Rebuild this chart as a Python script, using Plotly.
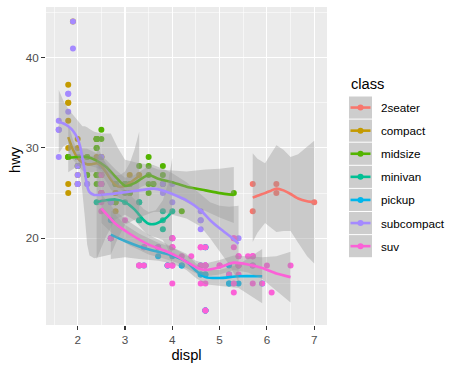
import plotly.graph_objects as go

# ---------------- data ----------------
classes = ["2seater", "compact", "midsize", "minivan", "pickup", "subcompact", "suv"]
class_colors = ["#F8766D", "#C49A00", "#53B400", "#00C094", "#00B6EB", "#A58AFF", "#FB61D7"]

displ_2seater = [5.7, 5.7, 6.2, 6.2, 7.0]
hwy_2seater = [26, 23, 26, 25, 24]

displ_compact = [1.8, 1.8, 2.0, 2.0, 2.8, 2.8, 3.1, 1.8, 1.8, 2.0, 2.0, 2.8, 2.8, 3.1, 3.1, 2.4, 2.4,
                 2.5, 2.5, 2.5, 2.5, 2.2, 2.2, 2.4, 2.4, 3.0, 3.0, 3.3, 1.8, 1.8, 1.8, 1.8, 1.8, 2.0,
                 2.0, 2.0, 2.0, 2.8, 1.9, 2.0, 2.0, 2.0, 2.0, 2.5, 2.5, 2.8, 2.8]
hwy_compact = [29, 29, 31, 30, 26, 26, 27, 26, 25, 28, 27, 25, 25, 25, 25, 29, 27, 25, 27, 25, 27,
               27, 29, 31, 31, 26, 26, 27, 30, 33, 35, 37, 35, 29, 26, 29, 29, 24, 44, 29, 26, 29,
               29, 29, 29, 23, 24]

displ_midsize = [2.8, 3.1, 4.2, 2.4, 2.4, 3.1, 3.5, 3.6, 2.4, 2.4, 2.4, 2.4, 2.5, 2.5, 3.3, 2.5,
                 2.5, 3.5, 3.5, 3.0, 3.0, 3.5, 3.1, 3.8, 3.8, 3.8, 5.3, 2.2, 2.2, 2.4, 2.4, 3.0,
                 3.0, 3.5, 1.8, 1.8, 2.0, 2.0, 2.8, 2.8, 3.6]
hwy_midsize = [24, 25, 23, 27, 30, 26, 29, 26, 26, 27, 30, 31, 26, 26, 28, 31, 32, 27, 26, 26, 25,
               25, 26, 26, 27, 28, 25, 29, 27, 31, 31, 26, 26, 28, 29, 29, 28, 29, 26, 26, 26]

displ_minivan = [2.4, 3.0, 3.3, 3.3, 3.3, 3.3, 3.3, 3.8, 3.8, 3.8, 4.0]
hwy_minivan = [24, 24, 22, 22, 24, 24, 17, 22, 21, 23, 23]

displ_pickup = [3.7, 3.7, 3.9, 3.9, 4.7, 4.7, 4.7, 5.2, 5.2, 4.7, 4.7, 4.7, 4.7, 4.7, 4.7, 5.2,
                5.2, 5.7, 5.9, 4.2, 4.2, 4.6, 4.6, 4.6, 5.4, 5.4, 2.7, 2.7, 2.7, 3.4, 3.4, 4.0, 4.0]
hwy_pickup = [19, 18, 17, 17, 19, 19, 12, 17, 15, 16, 12, 17, 17, 16, 12, 15, 16, 17, 15, 17, 17,
              16, 16, 17, 15, 17, 20, 20, 22, 17, 19, 18, 20]

displ_subcompact = [3.8, 3.8, 4.0, 4.0, 4.6, 4.6, 4.6, 4.6, 5.4, 1.6, 1.6, 1.6, 1.6, 1.6, 1.8,
                    1.8, 1.8, 2.0, 2.0, 2.0, 2.0, 2.0, 2.7, 2.7, 2.7, 2.2, 2.2, 2.5, 2.5, 1.9,
                    1.9, 2.0, 2.0, 2.5, 2.5]
hwy_subcompact = [26, 25, 26, 24, 21, 22, 23, 22, 20, 33, 32, 32, 29, 32, 34, 36, 36, 29, 26, 29,
                  28, 27, 24, 24, 24, 26, 26, 26, 26, 44, 41, 29, 26, 28, 29]

displ_suv = [5.3, 5.3, 5.3, 5.7, 6.0, 5.3, 5.3, 5.7, 6.5, 3.9, 4.7, 4.7, 4.7, 5.2, 5.7, 5.9, 4.6,
             5.4, 5.4, 4.0, 4.0, 4.0, 4.0, 4.6, 5.0, 3.0, 3.7, 4.0, 4.7, 4.7, 4.7, 5.7, 6.1, 4.0,
             4.2, 4.4, 4.6, 5.4, 5.4, 5.4, 4.0, 4.0, 4.6, 5.0, 3.3, 3.3, 4.0, 5.6, 2.5, 2.5, 2.5,
             2.5, 2.5, 2.5, 2.7, 2.7, 3.4, 3.4, 4.0, 4.7, 4.7, 5.7]
hwy_suv = [20, 15, 20, 17, 17, 19, 14, 15, 17, 17, 17, 12, 17, 16, 18, 15, 17, 17, 18, 17, 19, 17,
           19, 19, 17, 22, 19, 20, 17, 12, 19, 18, 14, 15, 18, 18, 15, 17, 16, 18, 17, 19, 19, 17,
           17, 17, 20, 18, 25, 24, 27, 25, 26, 23, 20, 20, 19, 17, 20, 17, 15, 18]

# smooth curves (loess fit and 95% band)
sm_x_2seater = [5.7, 5.8, 5.96, 6.1, 6.2, 6.35, 6.5, 6.66, 6.85, 7.0]
sm_fit_2seater = [24.5, 24.7, 25.0, 25.3, 25.5, 25.3, 24.9, 24.4, 24.1, 24.0]
sm_hi_2seater = [29.4, 28.8, 28.3, 29.5, 30.3, 29.8, 29.0, 29.3, 30.2, 30.8]
sm_lo_2seater = [19.6, 20.6, 21.7, 21.1, 20.7, 20.8, 20.8, 19.5, 18.0, 17.2]

sm_x_compact = [1.8, 1.9, 2.0, 2.1, 2.2, 2.3, 2.4, 2.5, 2.6, 2.7, 2.8, 2.9, 3.0, 3.1, 3.2, 3.3]
sm_fit_compact = [31.2, 29.8, 28.9, 28.4, 28.2, 28.2, 28.3, 28.0, 27.3, 26.5, 25.9, 25.7, 25.8, 26.1, 26.5, 26.9]
sm_hi_compact = [32.7, 30.9, 29.7, 29.3, 29.1, 29.1, 29.2, 28.9, 28.3, 27.6, 27.0, 27.0, 27.4, 28.3, 29.8, 31.8]
sm_lo_compact = [29.7, 28.7, 28.1, 27.5, 27.3, 27.3, 27.4, 27.1, 26.3, 25.4, 24.8, 24.4, 24.2, 23.9, 23.2, 22.0]

sm_x_midsize = [1.8, 2.0, 2.2, 2.4, 2.6, 2.8, 3.0, 3.2, 3.35, 3.5, 3.7, 4.0, 4.3, 4.7, 5.0, 5.3]
sm_fit_midsize = [28.9, 29.0, 29.0, 28.6, 27.9, 26.8, 25.8, 26.1, 26.6, 27.0, 26.6, 26.2, 25.7, 25.3, 25.0, 24.8]
sm_hi_midsize = [30.5, 30.0, 29.9, 29.4, 28.7, 27.6, 26.7, 27.0, 27.5, 28.0, 27.6, 27.5, 27.4, 27.6, 27.7, 27.9]
sm_lo_midsize = [27.3, 28.0, 28.1, 27.8, 27.1, 26.0, 24.9, 25.2, 25.7, 26.0, 25.6, 24.9, 24.0, 23.0, 22.3, 21.7]

sm_x_minivan = [2.4, 2.6, 2.8, 3.0, 3.2, 3.4, 3.5, 3.65, 3.8, 3.9, 4.0]
sm_fit_minivan = [24.0, 24.2, 24.3, 24.0, 23.2, 22.0, 21.6, 21.6, 22.0, 22.4, 23.0]
sm_hi_minivan = [30.3, 28.2, 26.5, 25.4, 24.4, 23.2, 22.9, 23.1, 24.2, 25.9, 28.9]
sm_lo_minivan = [17.7, 20.2, 22.1, 22.6, 22.0, 20.8, 20.3, 20.1, 19.8, 18.9, 17.1]

sm_x_pickup = [2.7, 3.0, 3.3, 3.7, 4.0, 4.3, 4.5, 4.7, 5.0, 5.4, 5.9]
sm_fit_pickup = [20.4, 19.7, 19.1, 18.5, 18.1, 17.4, 16.4, 15.7, 15.6, 15.8, 15.8]
sm_hi_pickup = [23.1, 21.5, 20.5, 19.5, 19.0, 18.3, 17.2, 16.5, 16.5, 17.1, 18.8]
sm_lo_pickup = [17.7, 17.9, 17.7, 17.5, 17.2, 16.5, 15.6, 14.9, 14.7, 14.5, 12.8]

sm_x_subcompact = [1.6, 1.7, 1.8, 1.9, 2.0, 2.05, 2.1, 2.15, 2.2, 2.25, 2.35, 2.5, 2.7, 2.85, 3.0,
                   3.3, 3.6, 3.8, 4.0, 4.3, 4.6, 4.8, 5.0, 5.2, 5.4]
sm_fit_subcompact = [32.9, 32.7, 32.4, 31.9, 31.0, 30.2, 28.9, 27.4, 25.8, 25.1, 24.8, 24.8, 24.9,
                     25.0, 25.1, 25.3, 25.5, 25.3, 24.9, 24.2, 23.1, 22.0, 21.1, 20.3, 19.4]
sm_hi_subcompact = [36.4, 35.2, 34.3, 33.7, 33.0, 32.7, 32.4, 32.4, 32.3, 32.1, 31.8, 31.6, 31.6,
                    30.0, 28.7, 28.3, 28.1, 27.7, 27.2, 26.2, 24.9, 24.0, 23.6, 23.5, 23.6]
sm_lo_subcompact = [29.4, 30.2, 30.5, 30.1, 29.0, 27.7, 25.4, 22.4, 19.3, 18.1, 17.8, 18.0, 18.2,
                    20.0, 21.5, 22.3, 22.9, 22.9, 22.6, 22.2, 21.3, 20.0, 18.6, 17.1, 15.2]

sm_x_suv = [2.5, 2.8, 3.1, 3.5, 3.8, 4.1, 4.3, 4.5, 4.7, 5.0, 5.3, 5.6, 5.9, 6.2, 6.5]
sm_fit_suv = [23.3, 21.6, 20.5, 19.3, 18.7, 18.0, 17.4, 16.8, 16.5, 16.8, 17.3, 17.1, 16.7, 16.1, 15.7]
sm_hi_suv = [24.9, 23.0, 21.8, 20.4, 19.6, 18.7, 18.1, 17.5, 17.2, 17.6, 18.1, 18.0, 17.9, 18.0, 18.5]
sm_lo_suv = [21.7, 20.2, 19.2, 18.2, 17.8, 17.3, 16.7, 16.1, 15.8, 16.0, 16.5, 16.2, 15.5, 14.2, 12.9]

x_ticks = [2, 3, 4, 5, 6, 7]
y_ticks = [20, 30, 40]
x_title = "displ"
y_title = "hwy"
legend_title = "class"

points = {
    "2seater": (displ_2seater, hwy_2seater), "compact": (displ_compact, hwy_compact),
    "midsize": (displ_midsize, hwy_midsize), "minivan": (displ_minivan, hwy_minivan),
    "pickup": (displ_pickup, hwy_pickup), "subcompact": (displ_subcompact, hwy_subcompact),
    "suv": (displ_suv, hwy_suv),
}
smooths = {
    "2seater": (sm_x_2seater, sm_fit_2seater, sm_lo_2seater, sm_hi_2seater),
    "compact": (sm_x_compact, sm_fit_compact, sm_lo_compact, sm_hi_compact),
    "midsize": (sm_x_midsize, sm_fit_midsize, sm_lo_midsize, sm_hi_midsize),
    "minivan": (sm_x_minivan, sm_fit_minivan, sm_lo_minivan, sm_hi_minivan),
    "pickup": (sm_x_pickup, sm_fit_pickup, sm_lo_pickup, sm_hi_pickup),
    "subcompact": (sm_x_subcompact, sm_fit_subcompact, sm_lo_subcompact, sm_hi_subcompact),
    "suv": (sm_x_suv, sm_fit_suv, sm_lo_suv, sm_hi_suv),
}

# ---------------- figure ----------------
W, H = 462, 370
L, R, T, B = 46, 135, 7, 45
FONT = "Liberation Sans, Arial, sans-serif"

fig = go.Figure()

for cls, col in zip(classes, class_colors):
    xs, ys = points[cls]
    fig.add_trace(go.Scatter(x=xs, y=ys, mode="markers",
                             marker=dict(color=col, size=6, line=dict(width=0)),
                             showlegend=False, hoverinfo="skip"))

for cls, col in zip(classes, class_colors):
    xs, fit, lo, hi = smooths[cls]
    fig.add_trace(go.Scatter(x=list(xs) + list(xs)[::-1], y=list(hi) + list(lo)[::-1],
                             mode="lines", fill="toself", fillcolor="rgba(153,153,153,0.4)",
                             line=dict(width=0),
                             showlegend=False, hoverinfo="skip"))
    fig.add_trace(go.Scatter(x=xs, y=fit, mode="lines",
                             line=dict(color=col, width=2.6, shape="spline", smoothing=0.6),
                             showlegend=False, hoverinfo="skip"))

pw, ph = W - L - R, H - T - B


def px_x(p):
    return (p - L) / pw


def px_y(p):
    return (H - B - p) / ph


shapes = []
annotations = []
annotations.append(dict(text=y_title, x=px_x(15), y=px_y(160), xref="paper", yref="paper",
                        xanchor="center", yanchor="middle", showarrow=False, textangle=-90,
                        font=dict(size=14.7, color="black", family=FONT)))
annotations.append(dict(text=legend_title, x=px_x(349), y=px_y(84), xref="paper", yref="paper",
                        xanchor="left", yanchor="middle", showarrow=False,
                        font=dict(size=14.7, color="black", family=FONT)))
key_top, key_h, key_l, key_r = 96, 23.1, 349, 372
for i, (cls, col) in enumerate(zip(classes, class_colors)):
    y0 = key_top + i * key_h
    yc = y0 + key_h / 2
    shapes.append(dict(type="rect", xref="paper", yref="paper", x0=px_x(key_l), x1=px_x(key_r),
                       y0=px_y(y0 + 0.5), y1=px_y(y0 + key_h - 0.5), fillcolor="#CDCDCD",
                       line=dict(width=0), layer="above"))
    shapes.append(dict(type="line", xref="paper", yref="paper", x0=px_x(350.5), x1=px_x(370.5),
                       y0=px_y(yc), y1=px_y(yc), line=dict(color=col, width=2.6), layer="above"))
    shapes.append(dict(type="circle", xref="paper", yref="paper", x0=px_x(360.5 - 3), x1=px_x(360.5 + 3),
                       y0=px_y(yc + 3), y1=px_y(yc - 3), fillcolor=col, line=dict(width=0),
                       layer="above"))
    annotations.append(dict(text=cls, x=px_x(379), y=px_y(yc), xref="paper", yref="paper",
                            xanchor="left", yanchor="middle", showarrow=False,
                            font=dict(size=11.7, color="black", family=FONT)))

fig.update_layout(
    width=W, height=H, margin=dict(l=L, r=R, t=T, b=B, autoexpand=False),
    paper_bgcolor="white", plot_bgcolor="#EBEBEB",
    font=dict(family=FONT), showlegend=False,
    shapes=shapes, annotations=annotations,
)
fig.update_xaxes(range=[1.33, 7.27], tickvals=x_ticks, ticktext=[str(v) for v in x_ticks],
                 showgrid=True, gridcolor="white", gridwidth=1.1, zeroline=False,
                 ticks="outside", ticklen=4, tickwidth=1.1, tickcolor="#333333",
                 tickfont=dict(size=11.7, color="#4D4D4D", family=FONT),
                 minor=dict(tickvals=[1.5, 2.5, 3.5, 4.5, 5.5, 6.5], showgrid=True,
                            gridcolor="white", gridwidth=0.55, ticks=""),
                 showline=False, automargin=False,
                 title=dict(text=x_title, font=dict(size=14.7, color="black", family=FONT), standoff=4))
fig.update_yaxes(range=[10.4, 45.6], tickvals=y_ticks, ticktext=[str(v) for v in y_ticks],
                 showgrid=True, gridcolor="white", gridwidth=1.1, zeroline=False,
                 ticks="outside", ticklen=4, tickwidth=1.1, tickcolor="#333333",
                 tickfont=dict(size=11.7, color="#4D4D4D", family=FONT),
                 minor=dict(tickvals=[15, 25, 35, 45], showgrid=True,
                            gridcolor="white", gridwidth=0.55, ticks=""),
                 showline=False, automargin=False)

fig.write_html("out.html", config={"displayModeBar": False, "staticPlot": True},
               post_script="document.body.style.margin='0px';document.body.style.overflow='hidden';")
